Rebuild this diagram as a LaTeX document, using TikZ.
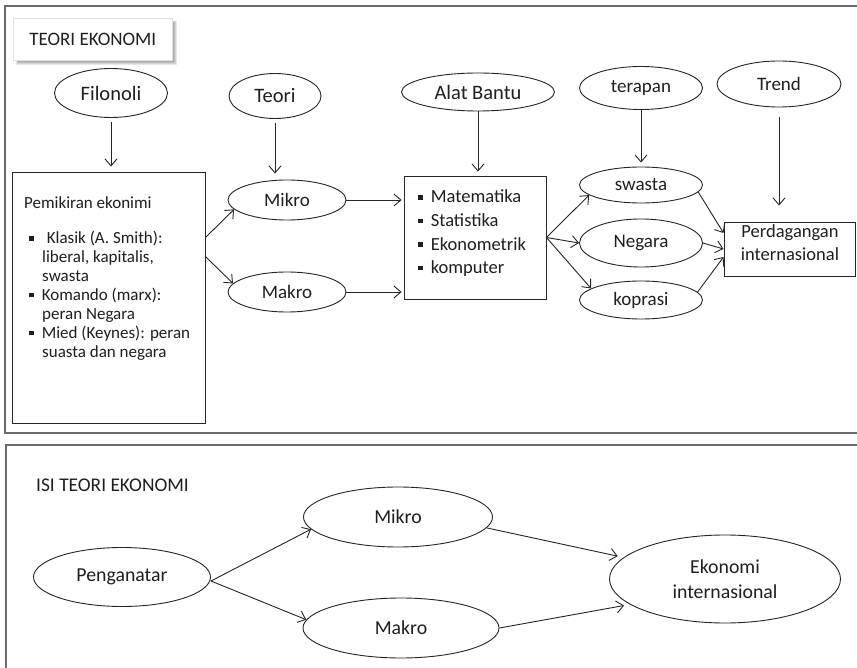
\documentclass[tikz,border=0pt]{standalone}
\usepackage{fontspec}
\setmainfont{Carlito}
\usetikzlibrary{arrows.meta,shapes.geometric,calc}

\newcommand\sqbul{\rule[3.4pt]{4.6pt}{4.6pt}}

\begin{document}
\begin{tikzpicture}[x=1pt,y=-1pt,
  every node/.style={text=black!88},
  oval/.style={ellipse, draw=black!85, line width=0.9pt, inner sep=0,
    font=\fontsize{19}{25}\selectfont, align=center},
  bigoval/.style={oval, font=\fontsize{20.5}{25}\selectfont},
  lowoval/.style={oval, font=\fontsize{19.8}{25}\selectfont},
  plainbox/.style={rectangle, draw=black!85, line width=0.9pt, inner sep=0},
  smalltxt/.style={inner sep=0, anchor=base west, font=\fontsize{17}{19}\selectfont},
  tooltxt/.style={inner sep=0, anchor=base west, font=\fontsize{18.5}{22}\selectfont},
  arr/.style={draw=black!85, line width=0.9pt,
    -{Straight Barb[length=7pt,width=12pt,line width=0.9pt]}},
  panel/.style={draw=black!58, line width=1.8pt},
]
\clip (0,0) rectangle (857,668);
\fill[white] (0,0) rectangle (857,668);

% ---------- upper panel ----------
\draw[panel] (5,6) rectangle (880,433);

% title tab with a soft shadow
\foreach \s in {0,1,2,3,4}
  \fill[black,opacity=0.09] (16+\s*0.5,21+\s*0.5) rectangle (177-\s,65-\s);
\node[rectangle, fill=white, draw=black!12, line width=0.6pt, inner sep=0,
  minimum width=159, minimum height=42, anchor=north west,
  font=\fontsize{19}{23}\selectfont] (ttl) at (13,18) {TEORI EKONOMI};

% top row of ellipses
\node[bigoval, minimum width=113, minimum height=49] (fil)   at (111,93)  {Filonoli};
\node[bigoval, minimum width=92,  minimum height=45] (teo)   at (275,96)  {Teori};
\node[bigoval, minimum width=153, minimum height=38] (alat)  at (478,92)  {Alat Bantu};
\node[oval, minimum width=123, minimum height=43] (ter)   at (641,88)  {terapan};
\node[oval, minimum width=124, minimum height=46] (trend) at (779,84)  {Trend};

% box of schools of thought
\node[plainbox, minimum width=193, minimum height=251] (pem) at (108.5,297.5) {};
\node[smalltxt] (p0) at (24,209) {Pemikiran ekonimi};
\node[smalltxt] (p1) at (29,244) {\sqbul\hspace{13pt}Klasik (A. Smith):};
\node[smalltxt] (p2) at (42,262.9) {liberal, kapitalis,};
\node[smalltxt] (p3) at (42,281.8) {swasta};
\node[smalltxt] (p4) at (29,300.7) {\sqbul\hspace{8pt}Komando (marx):};
\node[smalltxt] (p5) at (42,319.6) {peran Negara};
\node[smalltxt] (p6) at (29,338.5) {\sqbul\hspace{8pt}Mied (Keynes): peran};
\node[smalltxt] (p7) at (42,357.4) {suasta dan negara};

% micro / macro
\node[oval, minimum width=118, minimum height=40] (mik) at (287,200) {Mikro};
\node[oval, minimum width=118, minimum height=40] (mak) at (287,292) {Makro};

% tools box
\node[plainbox, minimum width=142, minimum height=123] (tools) at (475,237.5) {};
\node[tooltxt] (t1) at (418,203)   {\sqbul\hspace{8pt}Matematika};
\node[tooltxt] (t2) at (418,226.6) {\sqbul\hspace{8pt}Statistika};
\node[tooltxt] (t3) at (418,250.2) {\sqbul\hspace{8pt}Ekonometrik};
\node[tooltxt] (t4) at (418,273.8) {\sqbul\hspace{8pt}komputer};

% applied sectors
\node[oval, minimum width=123, minimum height=36] (swa) at (641,185) {swasta};
\node[oval, minimum width=123, minimum height=48] (neg) at (641,243) {Negara};
\node[oval, minimum width=123, minimum height=38] (kop) at (641,300) {koprasi};

% international trade box
\node[plainbox, minimum width=131, minimum height=54] (perd) at (789.5,249) {};
\node[inner sep=0, align=center, font=\fontsize{18.5}{23}\selectfont] (perdtxt)
  at (790,243) {Perdagangan\\internasional};

% connectors, upper panel
\draw[arr, shorten <=4pt, shorten >=5pt] (fil.south) -- (fil.south |- pem.north);
\draw[arr, shorten <=4pt, shorten >=6pt] (teo.south) -- (teo.south |- mik.north);
\draw[arr, shorten <=0pt, shorten >=4pt] (alat.south) -- (alat.south |- tools.north);
\draw[arr, shorten <=0pt, shorten >=4pt] (ter.south) -- (ter.south |- swa.north);
\draw[arr, shorten <=10pt, shorten >=16pt] (trend.south |- 0,107) -- (trend.south |- perd.north);

\draw[arr] ($(pem.north east)+(0,66)$) -- (mik.190);
\draw[arr] ($(pem.north east)+(0,85)$) -- (mak.171);
\draw[arr, shorten >=2pt] (mik.east) -- (tools.west |- mik.east);
\draw[arr, shorten >=2pt] (mak.east) -- (tools.west |- mak.east);

\draw[arr] (tools.east) -- (swa.191);
\draw[arr] (tools.east) -- (neg.west);
\draw[arr] (tools.east) -- (kop.167);

\draw[arr] (swa.353) -- ($(perd.west)+(0,-16)$);
\draw[arr] (neg.east) -- (perd.west);
\draw[arr] (kop.8) -- ($(perd.west)+(0,8)$);

% ---------- lower panel ----------
\draw[panel] (6,445) rectangle (880,700);
\node[inner sep=0, anchor=west, font=\fontsize{19.4}{23}\selectfont] (isi)
  at (36,485) {ISI TEORI EKONOMI};

\node[lowoval, minimum width=177, minimum height=59] (peng) at (122,577) {Penganatar};
\node[lowoval, minimum width=189, minimum height=60] (bmik) at (398,517) {Mikro};
\node[lowoval, minimum width=196, minimum height=60] (bmak) at (401,628) {Makro};
\node[lowoval, minimum width=231, minimum height=88] (eko)  at (725,579) {Ekonomi\\internasional};

\draw[arr] ($(peng.east)+(0,4)$) -- (bmik.188);
\draw[arr] ($(peng.east)+(0,4)$) -- (bmak.175);
\draw[arr, shorten >=6pt] (bmik.353) -- (eko.168);
\draw[arr, shorten >=6pt] (bmak.east) -- (eko.195);
\end{tikzpicture}
\end{document}
